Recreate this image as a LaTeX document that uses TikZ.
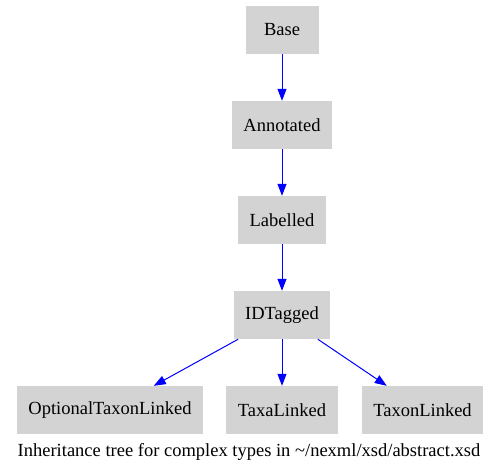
\documentclass[tikz,border=0pt]{standalone}
\usepackage{fontspec}
\setmainfont{Liberation Serif}
\usepackage[dvipsnames]{xcolor}
\usetikzlibrary{arrows.meta}
\definecolor{boxgray}{RGB}{211,211,211}
\tikzset{
    type/.style={fill=boxgray,draw=none,rectangle,minimum height=48pt,inner xsep=11.5pt,font=\fontsize{18.5}{21}\selectfont},
}

\begin{document}
\begin{tikzpicture}[x=1pt,y=-1pt,->,>={Triangle[length=12pt,width=9pt]},draw=blue,node distance=95pt]
            \useasboundingbox (0,0) rectangle (499,472);
            \node[type,minimum width=73pt] (base) at (282,30) {Base};
            \node[type] (annotated) [below of = base]{Annotated};
            \node[type] (labelled) [below of = annotated]{Labelled};
            \node[type] (idtagged) [below of = labelled]{IDTagged};
            \node[type] (taxa) [below of = idtagged]{TaxaLinked};
            \node[type] (opt) [left of = taxa, node distance=172pt]{OptionalTaxonLinked};
            \node[type] (taxon) [right of = taxa, node distance=140.5pt]{TaxonLinked};
            \node[font=\fontsize{18.5}{21}\selectfont] (caption) at (249,452) {Inheritance tree for complex types in \textasciitilde/nexml/xsd/abstract.xsd};

            \path[blue,line width=1pt]
                (base) edge (annotated)
                (annotated) edge (labelled)
                (labelled) edge (idtagged)
                (idtagged) edge (opt)
                (idtagged) edge (taxa)
                (idtagged) edge (taxon)
                ;
        \end{tikzpicture}
\end{document}
